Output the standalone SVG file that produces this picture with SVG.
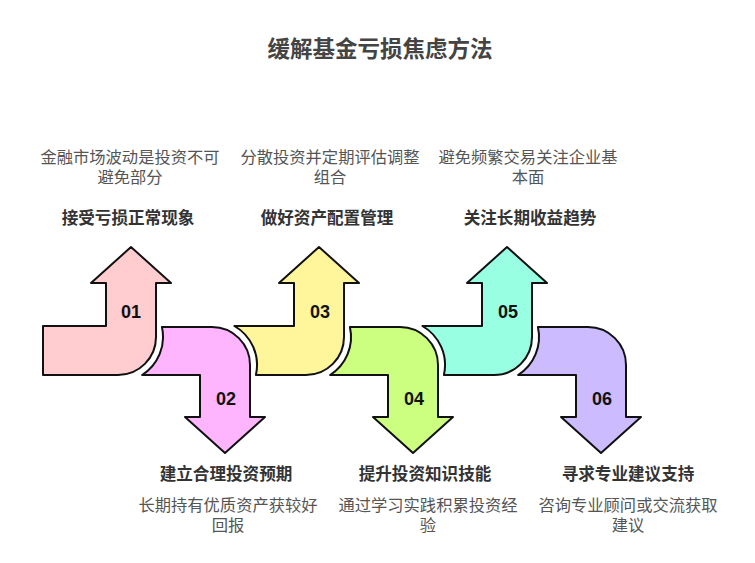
<svg xmlns="http://www.w3.org/2000/svg" width="755" height="563" viewBox="0 0 755 563">
<style>
.a{stroke:#111;stroke-width:2;stroke-linejoin:round}
.n{font-family:"Liberation Sans","Noto Sans",sans-serif;font-weight:bold;font-size:18px;fill:#111;text-anchor:middle}
.t{font-family:"Noto Sans CJK SC","Noto Sans",sans-serif;font-weight:bold;font-size:16.6px;fill:#333;text-anchor:middle}
.d{font-family:"Noto Sans CJK SC","Noto Sans",sans-serif;font-size:16.3px;fill:#555;text-anchor:middle}
.h{font-family:"Noto Sans CJK SC","Noto Sans",sans-serif;font-weight:bold;font-size:22.5px;fill:#444;text-anchor:middle}
</style>
<rect width="755" height="563" fill="#fff"/>
<text class="h" x="380" y="57">缓解基金亏损焦虑方法</text>
<g id="connectors"></g>
<g id="step1">
<path class="a" fill="#FFCCD0" d="M43 326 L106 326 L106 283 L91 283 L131 247 L171 283 L156 283 L156 337 A38 38 0 0 1 118 375 L43 375 Z"/>
<text class="n" x="131" y="318">01</text>
<text class="d" x="130" y="163">金融市场波动是投资不可</text>
<text class="d" x="130" y="183">避免部分</text>
<text class="t" x="128" y="224">接受亏损正常现象</text>
</g>
<g id="step2">
<path class="a" fill="#FFB5FE" d="M161.9 327 L212 327 A38 38 0 0 1 250 365 L250 417 L265 417 L225 453 L185 417 L200 417 L200 375 L142.1 375 A45 45 0 0 0 161.9 327 Z"/>
<text class="n" x="226" y="405">02</text>
<text class="t" x="226" y="480">建立合理投资预期</text>
<text class="d" x="228" y="511">长期持有优质资产获较好</text>
<text class="d" x="228" y="531">回报</text>
</g>
<g id="step3">
<path class="a" fill="#FFF59A" d="M234.4 326 L294 326 L294 283 L279 283 L319 247 L359 283 L344 283 L344 337 A38 38 0 0 1 306 375 L255.9 375 A45 45 0 0 0 234.4 326 Z"/>
<text class="n" x="320" y="318">03</text>
<text class="d" x="330" y="163">分散投资并定期评估调整</text>
<text class="d" x="330" y="183">组合</text>
<text class="t" x="327" y="224">做好资产配置管理</text>
</g>
<g id="step4">
<path class="a" fill="#CCFF80" transform="translate(188,0)" d="M161.9 327 L212 327 A38 38 0 0 1 250 365 L250 417 L265 417 L225 453 L185 417 L200 417 L200 375 L142.1 375 A45 45 0 0 0 161.9 327 Z"/>
<text class="n" x="414" y="405">04</text>
<text class="t" x="425" y="480">提升投资知识技能</text>
<text class="d" x="428" y="511">通过学习实践积累投资经</text>
<text class="d" x="428" y="531">验</text>
</g>
<g id="step5">
<path class="a" fill="#99FFE2" transform="translate(188,0)" d="M234.4 326 L294 326 L294 283 L279 283 L319 247 L359 283 L344 283 L344 337 A38 38 0 0 1 306 375 L255.9 375 A45 45 0 0 0 234.4 326 Z"/>
<text class="n" x="508" y="318">05</text>
<text class="d" x="528" y="163">避免频繁交易关注企业基</text>
<text class="d" x="528" y="183">本面</text>
<text class="t" x="530" y="224">关注长期收益趋势</text>
</g>
<g id="step6">
<path class="a" fill="#CCBBFF" transform="translate(376,0)" d="M161.9 327 L212 327 A38 38 0 0 1 250 365 L250 417 L265 417 L225 453 L185 417 L200 417 L200 375 L142.1 375 A45 45 0 0 0 161.9 327 Z"/>
<text class="n" x="602" y="405">06</text>
<text class="t" x="628" y="480">寻求专业建议支持</text>
<text class="d" x="628" y="511">咨询专业顾问或交流获取</text>
<text class="d" x="628" y="531">建议</text>
</g>
</svg>
